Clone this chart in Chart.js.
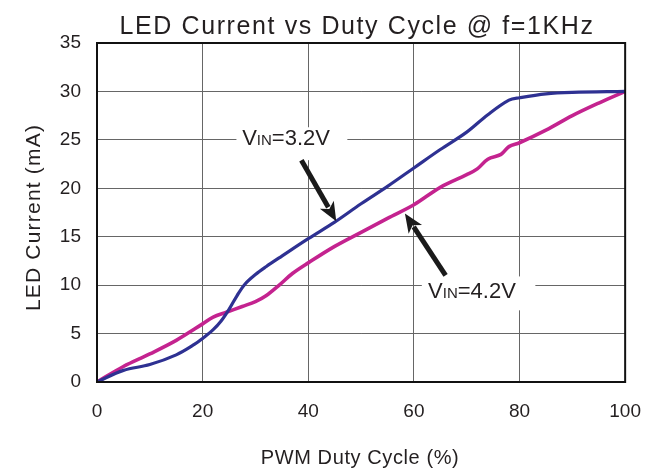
<!DOCTYPE html>
<html>
<head>
<meta charset="utf-8">
<script src="https://cdn.jsdelivr.net/npm/chart.js@4"></script>
<style>
  html, body { margin: 0; padding: 0; background: #fff; }
  #chart { display: block; }
</style>
</head>
<body>
<canvas id="chart" width="659" height="471"></canvas>
<script>
// data
const duty32 = [0, 5, 10, 15, 18.5, 20, 22, 23.5, 25, 26.5, 28, 30, 32, 35, 40, 45, 50, 55, 60, 65, 70, 74, 78, 80, 85, 90, 100];
const curr32 = [0, 1.2, 1.8, 2.8, 3.9, 4.5, 5.4, 6.3, 7.5, 8.9, 10.1, 11.1, 11.9, 13.0, 14.8, 16.5, 18.4, 20.2, 22.1, 24.0, 25.8, 27.6, 29.1, 29.35, 29.75, 29.9, 30];

const duty42 = [0, 5, 10, 15, 20, 22, 24.5, 27.5, 30, 32, 34.5, 37, 40, 45, 50, 55, 60, 65, 70, 72, 74, 76.5, 78, 80, 85, 90, 95, 100];
const curr42 = [0, 1.6, 2.9, 4.3, 6.0, 6.7, 7.2, 7.8, 8.3, 8.9, 10.0, 11.2, 12.3, 14.0, 15.45, 16.9, 18.3, 20.1, 21.4, 22.0, 23.0, 23.5, 24.3, 24.7, 26.0, 27.5, 28.8, 30];

const xTicks = [0, 20, 40, 60, 80, 100];
const yTicks = [0, 5, 10, 15, 20, 25, 30, 35];

const titleText = 'LED Current vs Duty Cycle @ f=1KHz';
const xTitle = 'PWM Duty Cycle (%)';
const yTitle = 'LED Current (mA)';

const FONT = '"Liberation Sans", Arial, sans-serif';
const INK = '#231f20';

// callouts, in data units (duty %, mA)
const callouts = [
  { rest: '=3.2V', tx: 35.8, ty: 24.5, box: [26.4, 47.4, 26.3, 22.9], from: [38.7, 22.9], to: [45.3, 16.6] },
  { rest: '=4.2V', tx: 71.0, ty: 8.7, box: [61.5, 83.0, 10.9, 7.4], from: [66.0, 11.0], to: [58.3, 17.4] }
];

function toPts(xs, ys) {
  return xs.map((x, i) => ({ x: x, y: ys[i] }));
}

function arrow(ctx, x1, y1, x2, y2) {
  const dx = x2 - x1, dy = y2 - y1;
  const len = Math.hypot(dx, dy);
  const ux = dx / len, uy = dy / len;
  const headLen = 19, headW = 8;
  const bx = x2 - ux * headLen, by = y2 - uy * headLen;
  ctx.strokeStyle = '#1a1a1a';
  ctx.fillStyle = '#1a1a1a';
  ctx.lineWidth = 5;
  ctx.lineCap = 'butt';
  ctx.beginPath();
  ctx.moveTo(x1, y1);
  ctx.lineTo(bx + ux * 3, by + uy * 3);
  ctx.stroke();
  ctx.beginPath();
  ctx.moveTo(x2, y2);
  ctx.lineTo(bx - uy * headW, by + ux * headW);
  ctx.lineTo(bx + ux * 5, by + uy * 5);
  ctx.lineTo(bx + uy * headW, by - ux * headW);
  ctx.closePath();
  ctx.fill();
}

const extras = {
  id: 'extras',
  afterDatasetsDraw(chart) {
    const { ctx, chartArea: a, scales: { x, y } } = chart;
    ctx.save();
    callouts.forEach(c => {
      const bx1 = x.getPixelForValue(c.box[0]), bx2 = x.getPixelForValue(c.box[1]);
      const by1 = y.getPixelForValue(c.box[2]), by2 = y.getPixelForValue(c.box[3]);
      ctx.fillStyle = '#fff';
      ctx.fillRect(bx1, by1, bx2 - bx1, by2 - by1);

      const big = '22px ' + FONT, small = '15px ' + FONT;
      ctx.font = big;
      const wV = ctx.measureText('V').width;
      const wR = ctx.measureText(c.rest).width;
      ctx.font = small;
      const wS = ctx.measureText('IN').width;
      let px = x.getPixelForValue(c.tx) - (wV + wS + wR) / 2;
      const py = y.getPixelForValue(c.ty);
      ctx.fillStyle = INK;
      ctx.textBaseline = 'alphabetic';
      ctx.textAlign = 'left';
      ctx.font = big; ctx.fillText('V', px, py); px += wV;
      ctx.font = small; ctx.fillText('IN', px, py); px += wS;
      ctx.font = big; ctx.fillText(c.rest, px, py);

      arrow(ctx, x.getPixelForValue(c.from[0]), y.getPixelForValue(c.from[1]),
                 x.getPixelForValue(c.to[0]), y.getPixelForValue(c.to[1]));
    });
    // frame
    ctx.strokeStyle = '#111';
    ctx.lineWidth = 2;
    ctx.strokeRect(a.left, a.top, a.right - a.left, a.bottom - a.top);

    // titles (letter-spaced like the original)
    const midX = (a.left + a.right) / 2;
    const midY = (a.top + a.bottom) / 2;
    ctx.fillStyle = INK;
    ctx.textAlign = 'center';
    ctx.textBaseline = 'alphabetic';
    ctx.letterSpacing = '1.6px';
    ctx.font = '25px ' + FONT;
    ctx.fillText(titleText, midX - 4, a.top - 9);
    ctx.letterSpacing = '0.6px';
    ctx.font = '20px ' + FONT;
    ctx.fillText(xTitle, midX - 1, 464);
    ctx.save();
    ctx.translate(40, midY + 5);
    ctx.rotate(-Math.PI / 2);
    ctx.letterSpacing = '1.2px';
    ctx.font = '21px ' + FONT;
    ctx.fillText(yTitle, 0, 0);
    ctx.restore();
    ctx.restore();
  }
};

new Chart(document.getElementById('chart'), {
  type: 'line',
  data: {
    datasets: [
      { label: 'VIN=3.2V', data: toPts(duty32, curr32), borderColor: '#2e3192', borderWidth: 3.2,
        pointRadius: 0, tension: 0.35, fill: false },
      { label: 'VIN=4.2V', data: toPts(duty42, curr42), borderColor: '#c4238f', borderWidth: 3.6,
        pointRadius: 0, tension: 0.35, fill: false }
    ]
  },
  options: {
    responsive: false,
    animation: false,
    devicePixelRatio: 1,
    layout: { padding: { left: 0, right: 32, top: 43, bottom: 0 } },
    plugins: {
      legend: { display: false },
      tooltip: { enabled: false },
      title: { display: false }
    },
    scales: {
      x: {
        type: 'linear', min: 0, max: 100,
        afterBuildTicks: s => { s.ticks = xTicks.map(v => ({ value: v })); },
        afterFit: s => { s.height = 89; },
        grid: { color: '#666', lineWidth: 1, drawTicks: false },
        border: { display: false },
        ticks: { color: INK, font: { family: FONT, size: 19 }, padding: 18, maxRotation: 0 }
      },
      y: {
        min: 0, max: 35,
        afterBuildTicks: s => { s.ticks = yTicks.map(v => ({ value: v })); },
        afterFit: s => { s.width = 97; },
        grid: { color: '#666', lineWidth: 1, drawTicks: false },
        border: { display: false },
        ticks: { color: INK, font: { family: FONT, size: 19 }, padding: 16 }
      }
    }
  },
  plugins: [extras]
});
</script>
</body>
</html>
